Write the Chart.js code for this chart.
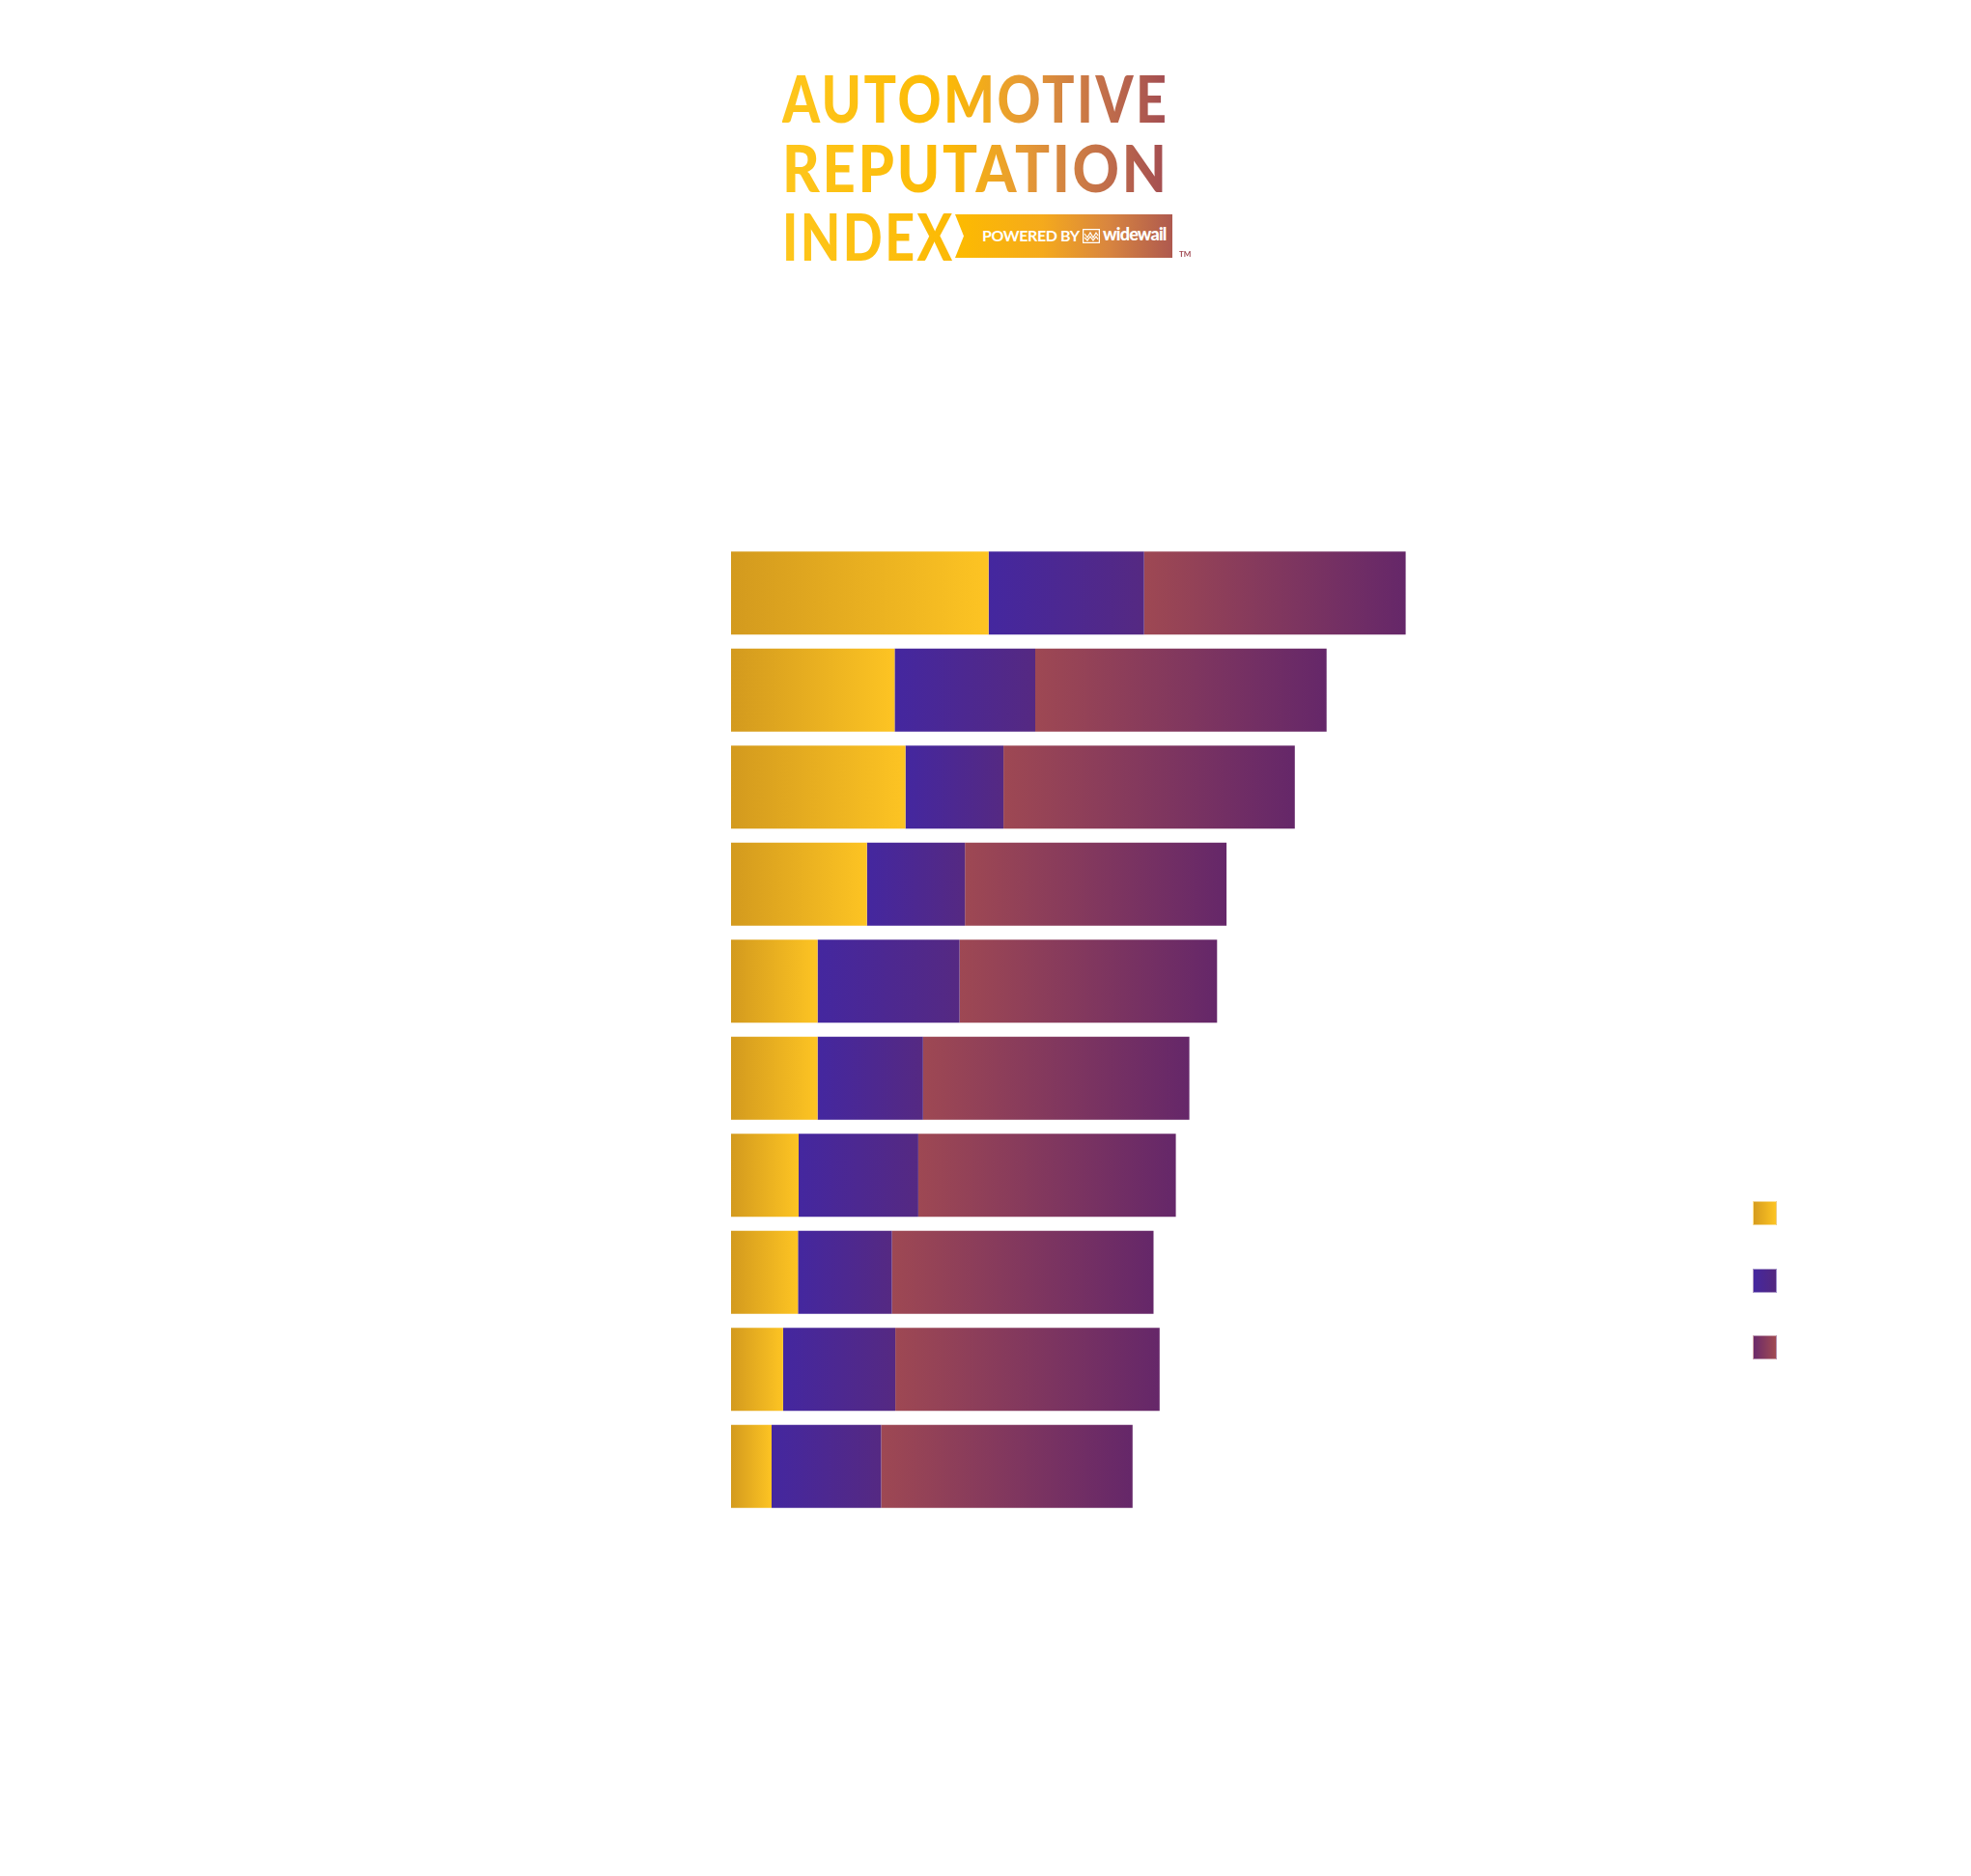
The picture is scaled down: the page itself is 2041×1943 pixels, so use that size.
<!DOCTYPE html>
<html>
<head>
<meta charset="utf-8">
<script src="https://cdn.jsdelivr.net/npm/chart.js@4"></script>
<style>
    body { margin: 0; background: #ffffff; }
    #wrap { position: absolute; left: 0; top: 0; width: 2041px; height: 1943px; }
    .logo-line {
        position: absolute; left: 810px; width: 404px; height: 80px;
        font-family: "Lato", sans-serif; font-weight: 900; font-size: 66px; line-height: 80px;
        letter-spacing: 3px; white-space: nowrap; transform-origin: 0 0;
        background: linear-gradient(90deg, #FEC61C 0%, #FCBA05 42%, #E69A35 62%, #C3704A 82%, #A04A52 100%);
        -webkit-background-clip: text; background-clip: text; color: transparent;
    }
    #banner {
        position: absolute; left: 989px; top: 222px; width: 225px; height: 45px;
        clip-path: polygon(0 0, 100% 0, 100% 100%, 0 100%, 9px 50%);
        background: linear-gradient(90deg, #FDBB00 0%, #F5AA1C 40%, #D9863F 70%, #AE594F 100%);
    }
    #banner .pw {
        position: absolute; left: 28px; top: 13px;
        font-family: "Lato", sans-serif; font-weight: 700; font-size: 16px; line-height: 18px;
        letter-spacing: -0.4px; color: #ffffff;
    }
    #banner .ww {
        position: absolute; left: 153px; top: 10px;
        font-family: "Lato", sans-serif; font-weight: 900; font-size: 18px; line-height: 20px;
        letter-spacing: -0.8px; color: #ffffff;
    }
    #banner svg { position: absolute; left: 132px; top: 15px; }
    #tm {
        position: absolute; left: 1221px; top: 258px;
        font-family: "Lato", sans-serif; font-weight: 700; font-size: 8px; color: #A04A52;
    }
    .swatch { position: absolute; left: 1815px; width: 25px; height: 25px; box-sizing: border-box; border: 1px solid rgba(255,255,255,0.5); }
</style>
</head>
<body>
<div id="wrap"><canvas id="chartReputation"></canvas></div>

<div class="logo-line" data-target="398" style="top: 62px;">AUTOMOTIVE</div>
<div class="logo-line" data-target="398" style="top: 134px;">REPUTATION</div>
<div class="logo-line" data-target="176" style="top: 205px;">INDEX</div>
<div id="banner">
    <div class="pw">POWERED BY</div>
    <svg width="18" height="15" viewBox="0 0 18 15">
        <rect x="0.5" y="0.5" width="17" height="14" fill="none" stroke="#fff" stroke-width="1.5"/>
        <polyline points="2,5 5,9 8,4 11,9 14,4 16,7" fill="none" stroke="#fff" stroke-width="1.2"/>
        <polyline points="2,9 5,12 8,8 11,12 14,8 16,11" fill="none" stroke="#fff" stroke-width="1.2"/>
    </svg>
    <div class="ww">widewail</div>
</div>
<div id="tm">TM</div>

<div class="swatch" style="top: 1244px; background: linear-gradient(90deg, #D69C1E, #FDC423);"></div>
<div class="swatch" style="top: 1314px; background: linear-gradient(90deg, #44279F, #53287F);"></div>
<div class="swatch" style="top: 1383px; background: linear-gradient(90deg, #6B2A6A, #A04A52);"></div>

<script>
// values, top to bottom
const categories = ["#1", "#2", "#3", "#4", "#5", "#6", "#7", "#8", "#9", "#10"];
const seriesNames = ["Positive", "Neutral", "Negative"];
const positive = [38.1, 24.2, 25.8, 20.1, 12.8, 12.8, 10.0, 9.9, 7.7, 6.0];
const neutral = [23.0, 20.8, 14.5, 14.5, 21.0, 15.6, 17.7, 13.9, 16.6, 16.2];
const negative = [38.7, 43.1, 43.1, 38.7, 38.1, 39.4, 38.1, 38.7, 39.1, 37.2];

const series = [positive, neutral, negative];
const gradientStops = [
    ["#D39A1E", "#FDC423"],
    ["#44279F", "#552982"],
    ["#9E4853", "#652769"]
];

// each segment gets its own left-to-right gradient
function segmentGradient(context) {
    const stops = gradientStops[context.datasetIndex];
    const chart = context.chart;
    if (context.type !== "data" || !chart.chartArea) {
        return stops[1];
    }
    const i = context.dataIndex;
    let start = 0;
    for (let d = 0; d < context.datasetIndex; d++) {
        start += series[d][i];
    }
    const end = start + series[context.datasetIndex][i];
    const x = chart.scales.x;
    const g = chart.ctx.createLinearGradient(x.getPixelForValue(start), 0, x.getPixelForValue(end), 0);
    g.addColorStop(0, stops[0]);
    g.addColorStop(1, stops[1]);
    return g;
}

// squeeze logo lines to their widths, keeping the gradient on the same span
document.querySelectorAll(".logo-line").forEach(el => {
    const c = document.createElement("canvas").getContext("2d");
    c.font = "900 66px Lato";
    const text = el.textContent;
    const natural = c.measureText(text).width + 3 * (text.length - 1);
    const s = parseFloat(el.dataset.target) / natural;
    el.style.transform = "scaleX(" + s + ")";
    el.style.width = (404 / s) + "px";
});

new Chart(document.getElementById("chartReputation"), {
    type: "bar",
    data: {
        labels: categories,
        datasets: series.map((values, k) => ({
            label: seriesNames[k],
            data: values,
            backgroundColor: segmentGradient,
            borderWidth: 0,
            categoryPercentage: 1,
            barPercentage: 0.855
        }))
    },
    options: {
        indexAxis: "y",
        responsive: true,
        maintainAspectRatio: false,
        animation: false,
        layout: {
            padding: { left: 757, right: 304, top: 564, bottom: 374 }
        },
        scales: {
            x: { stacked: true, min: 0, max: 140, display: false },
            y: { stacked: true, display: false }
        },
        plugins: {
            legend: { display: false },
            tooltip: { enabled: false }
        }
    }
});
</script>
</body>
</html>
